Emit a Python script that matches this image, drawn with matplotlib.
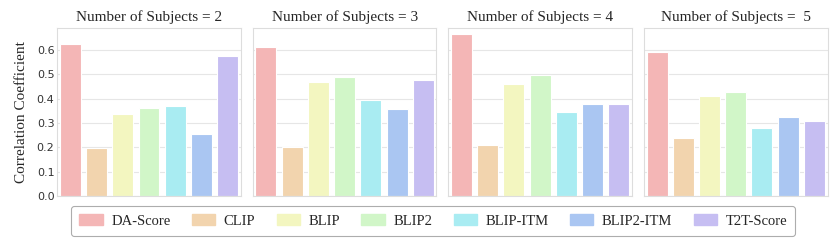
import matplotlib
matplotlib.use("Agg")
import matplotlib.pyplot as plt
import numpy as np
import seaborn as sns

methods = ["DA-Score", "CLIP", "BLIP", "BLIP2", "BLIP-ITM", "BLIP2-ITM", "T2T-Score"]
titles = ["Number of Subjects = 2", "Number of Subjects = 3",
          "Number of Subjects = 4", "Number of Subjects =  5"]

subj2 = [0.625, 0.197, 0.338, 0.363, 0.370, 0.253, 0.574]
subj3 = [0.611, 0.203, 0.468, 0.490, 0.393, 0.359, 0.476]
subj4 = [0.665, 0.208, 0.461, 0.499, 0.345, 0.378, 0.377]
subj5 = [0.592, 0.239, 0.410, 0.428, 0.280, 0.326, 0.309]

colors = ["#F4B6B6", "#F2D4AE", "#F3F6C0", "#D1F6C8", "#A9ECF2", "#AAC6F2", "#C6BEF2"]

sns.set_style("whitegrid")
serif = "Liberation Serif"

fig, axes = plt.subplots(1, 4, figsize=(8.3, 2.41), dpi=100, sharey=True)
fig.subplots_adjust(left=0.069, right=0.997, top=0.884, bottom=0.187, wspace=0.066)

x = np.arange(len(methods))
for ax, vals, title in zip(axes, [subj2, subj3, subj4, subj5], titles):
    ax.bar(x, vals, width=0.8, color=colors, edgecolor="white", linewidth=0.8)
    ax.set_xlim(-0.5, len(methods) - 0.5)
    ax.set_xticks([])
    ax.set_title(title, family=serif, fontsize=11, pad=5)
    ax.grid(axis="x", visible=False)
    ax.grid(axis="y", color="#e6e6e6", linewidth=0.8)
    for s in ax.spines.values():
        s.set_color("#dddddd")
        s.set_linewidth(0.8)
    ax.tick_params(axis="y", labelsize=8, pad=2, length=0, labelcolor="#333333")

axes[0].set_ylim(0, 0.691)
axes[0].set_yticks(np.arange(0, 0.61, 0.1))
axes[0].set_ylabel("Correlation Coefficient", family=serif, fontsize=11, labelpad=6)

handles = [plt.Rectangle((0, 0), 1, 1, color=c) for c in colors]
leg = fig.legend(handles, methods, loc="center", bbox_to_anchor=(0.522, 0.083), ncol=7,
                 prop={"family": serif, "size": 10.5}, frameon=True, fancybox=True,
                 columnspacing=1.45, handlelength=1.6, handletextpad=0.6,
                 borderpad=0.55)
leg.get_frame().set_edgecolor("#999999")
leg.get_frame().set_linewidth(0.8)

fig.savefig("out.png", dpi=100)
